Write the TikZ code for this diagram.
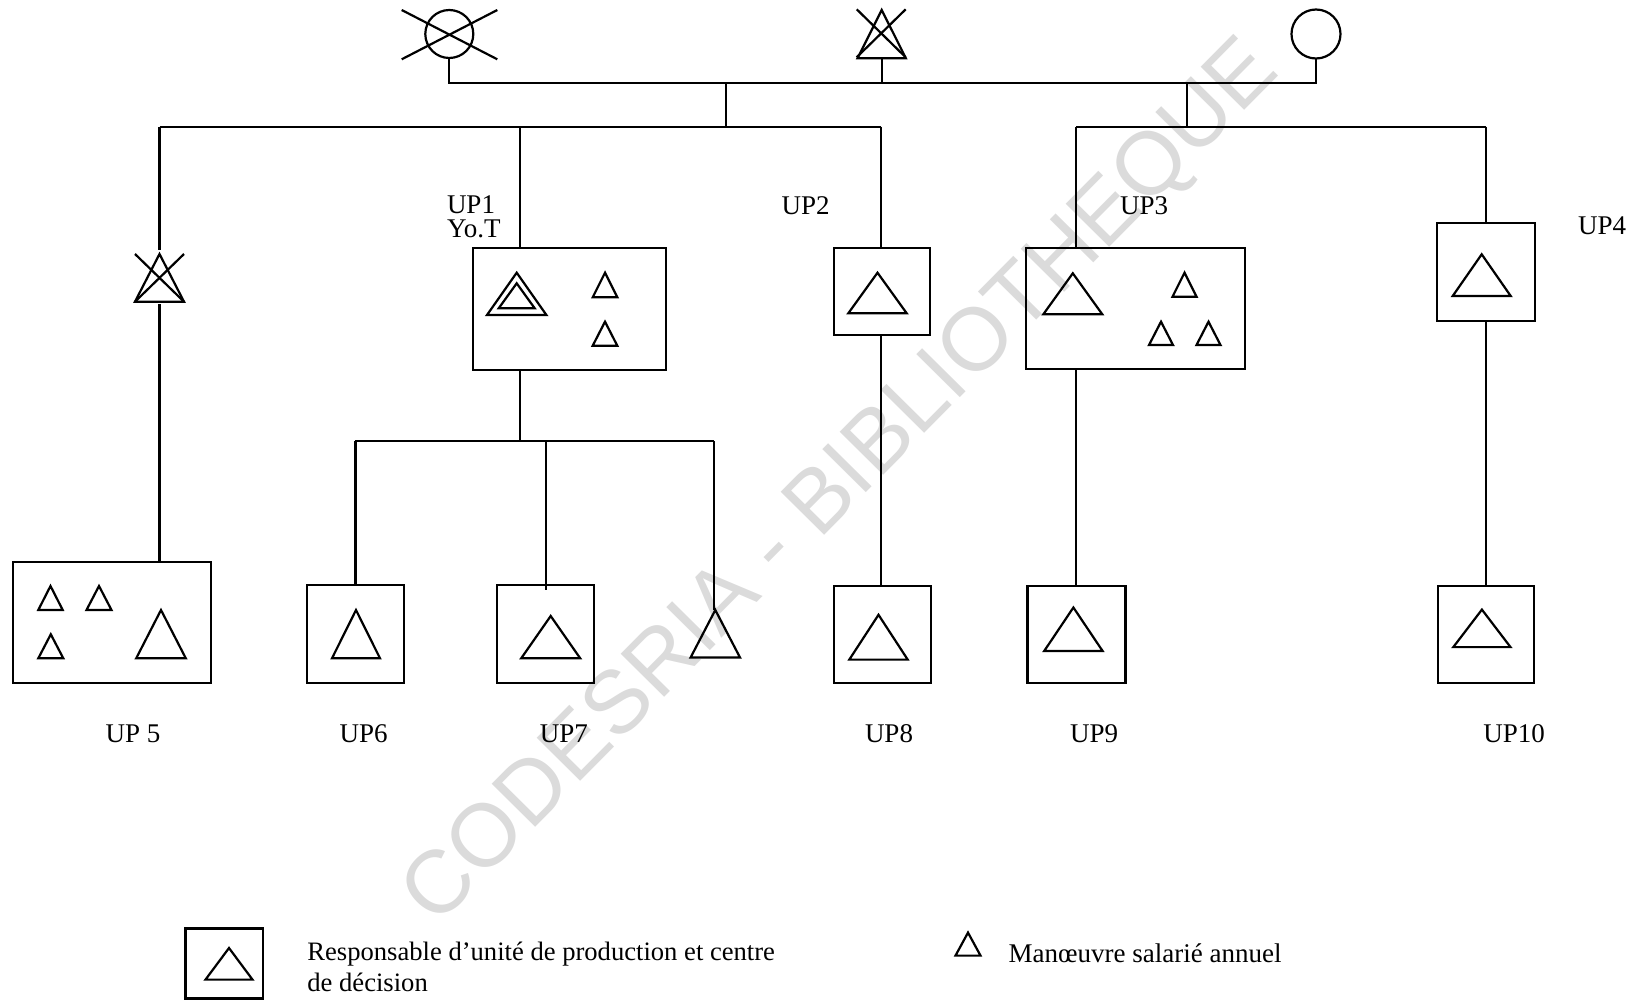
\documentclass[tikz,border=0pt]{standalone}
\usepackage{fontspec}
\setmainfont{Liberation Serif}
\newfontfamily\wmfont{Liberation Sans}
\newcommand\mytri[4]{\draw[ln] ({#1-#3},#2) -- (#1,{#2-#4}) -- ({#1+#3},#2) -- cycle;}
\begin{document}
\begin{tikzpicture}[x=1pt,y=-1pt,
  ln/.style={line width=2.2pt},
  box/.style={draw, line width=2.2pt, rectangle, inner sep=0pt, outer sep=0pt},
  lbl/.style={font=\fontsize{27}{31}\selectfont, inner sep=0pt, outer sep=0pt}]
\useasboundingbox (0,0) rectangle (1634,1001);
% watermark
\node[rotate=45.3, text=black!14, font=\wmfont\fontsize{89}{89}\selectfont, inner sep=0pt] (wm) at (843,484) {CODESRIA - BIBLIOTHEQUE};

% top generation
\node[circle, draw, line width=2.2pt, minimum size=48pt, inner sep=0pt, outer sep=0pt] (m1) at (449.3,34) {};
\draw[ln] (401.7,10) -- (497.3,59.3) (401.7,59.3) -- (497.3,10);
\node[circle, draw, line width=2.2pt, minimum size=49pt, inner sep=0pt, outer sep=0pt] (m3) at (1316,34) {};
\coordinate (f0) at (881.7,58.3);
\mytri{881.7}{58.3}{24.2}{48.3}
\draw[ln] (856.7,9.3) -- (905.7,57.3) (905.7,9.3) -- (856.7,57.3);

\coordinate (barL) at (449.3,82.7);
\coordinate (barR) at (1316,82.7);
\draw[ln] (m1.south) -- (barL) -- (barR) -- (m3.south);
\draw[ln] (f0) -- (f0 |- barL);

% junctions
\coordinate (jA) at (725.7,82.7);
\coordinate (jA2) at (725.7,126.7);
\coordinate (jB) at (1186.7,82.7);
\coordinate (jB2) at (1186.7,126.7);
\draw[ln] (jA) -- (jA2);
\draw[ln] (jB) -- (jB2);
\coordinate (lbL) at (159.5,126.7);
\coordinate (lbR) at (881,126.7);
\coordinate (rbL) at (1076,126.7);
\coordinate (rbR) at (1486,126.7);
\draw[ln] (lbL) -- (lbR);
\draw[ln] (rbL) -- (rbR);

% boxes
\node[box, minimum width=193pt, minimum height=121.7pt] (up1) at (569.2,309.15) {};
\node[box, minimum width=96pt, minimum height=86.7pt] (up2) at (882,291.65) {};
\node[box, minimum width=219pt, minimum height=121pt] (up3) at (1135.5,308.8) {};
\node[box, minimum width=98.3pt, minimum height=97.4pt] (up4) at (1485.85,272) {};
\node[box, minimum width=197.4pt, minimum height=121pt] (up5) at (112,622.2) {};
\node[box, minimum width=96.7pt, minimum height=97.7pt] (up6) at (355.65,633.85) {};
\node[box, minimum width=96.7pt, minimum height=97.7pt] (up7) at (545.65,633.85) {};
\node[box, minimum width=96.9pt, minimum height=97pt] (up8) at (882.15,634.1) {};
\node[box, minimum width=98pt, minimum height=97pt] (up9) at (1076.5,634.1) {};
\node[box, minimum width=96pt, minimum height=97pt] (up10) at (1486,634.1) {};
\node[box, minimum width=77.1pt, minimum height=69.9pt] (leg) at (224.05,963.45) {};

% left branch: crossed triangle
\coordinate (f1a) at (159.5,250);
\coordinate (f1b) at (159.5,304);
\mytri{159.5}{301.7}{24.5}{47.7}
\draw[ln] (135,254) -- (184,301.7) (184,254) -- (135,301.7);
\draw[ln] (lbL) -- (f1a);
\draw[ln] (f1b) -- (f1b |- up5.north);

% UP1
\coordinate (s1) at (520,126.7);
\draw[ln] (s1) -- (s1 |- up1.north);
\coordinate (c1) at (520,440.8);
\coordinate (c1L) at (355.4,440.8);
\coordinate (c1M) at (545.7,440.8);
\coordinate (c1R) at (714.3,440.8);
\coordinate (f2) at (714.3,610);
\draw[ln] (s1 |- up1.south) -- (c1);
\draw[ln] (c1L) -- (c1R);
\draw[ln] (c1L) -- (c1L |- up6.north);
\draw[ln] (c1M) -- (545.7,590);
\draw[ln] (c1R) -- (f2);
% UP2
\coordinate (s2) at (881,126.7);
\draw[ln] (s2) -- (s2 |- up2.north);
\draw[ln] (s2 |- up2.south) -- (s2 |- up8.north);
% UP3
\coordinate (s3) at (1076,126.7);
\draw[ln] (s3) -- (s3 |- up3.north);
\draw[ln] (s3 |- up3.south) -- (s3 |- up9.north);
% UP4
\coordinate (s4) at (1486,126.7);
\draw[ln] (s4) -- (s4 |- up4.north);
\draw[ln] (s4 |- up4.south) -- (s4 |- up10.north);

% triangles
\mytri{516.7}{315}{29.7}{42.3}
\mytri{516.7}{308.3}{18}{25}
\mytri{605}{297.3}{12.3}{24.6}
\mytri{605}{345.7}{12.3}{24}
\mytri{877.5}{313.3}{29.2}{40.6}
\mytri{1072.8}{314.3}{29.5}{41}
\mytri{1184.5}{296.7}{12}{24}
\mytri{1161}{345}{12}{23.3}
\mytri{1208.5}{345}{12}{23.3}
\mytri{1481.7}{296}{29}{41.7}
\mytri{50.5}{610}{12.2}{24}
\mytri{99}{610}{12.5}{24}
\mytri{50.8}{658.3}{12.5}{24}
\mytri{161}{658.3}{24.8}{48.3}
\mytri{356}{658.3}{24}{48.3}
\mytri{550.7}{658.3}{29.5}{42.3}
\mytri{715.3}{657.5}{24.7}{47.5}
\mytri{878.5}{659.6}{29.2}{44.8}
\mytri{1073.4}{651}{29.2}{43.5}
\mytri{1481.9}{647.1}{28.6}{37.5}
\mytri{229}{979.6}{23.5}{31.6}
\mytri{968}{955.6}{12.5}{23}

% labels
\node[lbl, anchor=base west] (tUP1) at (447,213) {UP1};
\node[lbl, anchor=base west] (tYo) at (447,237) {Yo.T};
\node[lbl, anchor=base west] (tUP2) at (781.5,214) {UP2};
\node[lbl, anchor=base west] (tUP3) at (1120,214) {UP3};
\node[lbl, anchor=base west] (tUP4) at (1578,234) {UP4};
\node[lbl] (tUP5) at (133,733.6) {UP 5};
\node[lbl] (tUP6) at (363.7,733.6) {UP6};
\node[lbl] (tUP7) at (563.8,733.6) {UP7};
\node[lbl] (tUP8) at (889,733.6) {UP8};
\node[lbl] (tUP9) at (1094.2,733.6) {UP9};
\node[lbl] (tUP10) at (1514.2,733.6) {UP10};
\node[lbl, align=left, anchor=north west, font=\fontsize{26.6}{31}\selectfont] (tleg1) at (307.4,941.5) {Responsable d’unité de production et centre\\de décision};
\node[lbl, anchor=west] (tleg2) at (1008.7,953.5) {Manœuvre salarié annuel};
\end{tikzpicture}
\end{document}
